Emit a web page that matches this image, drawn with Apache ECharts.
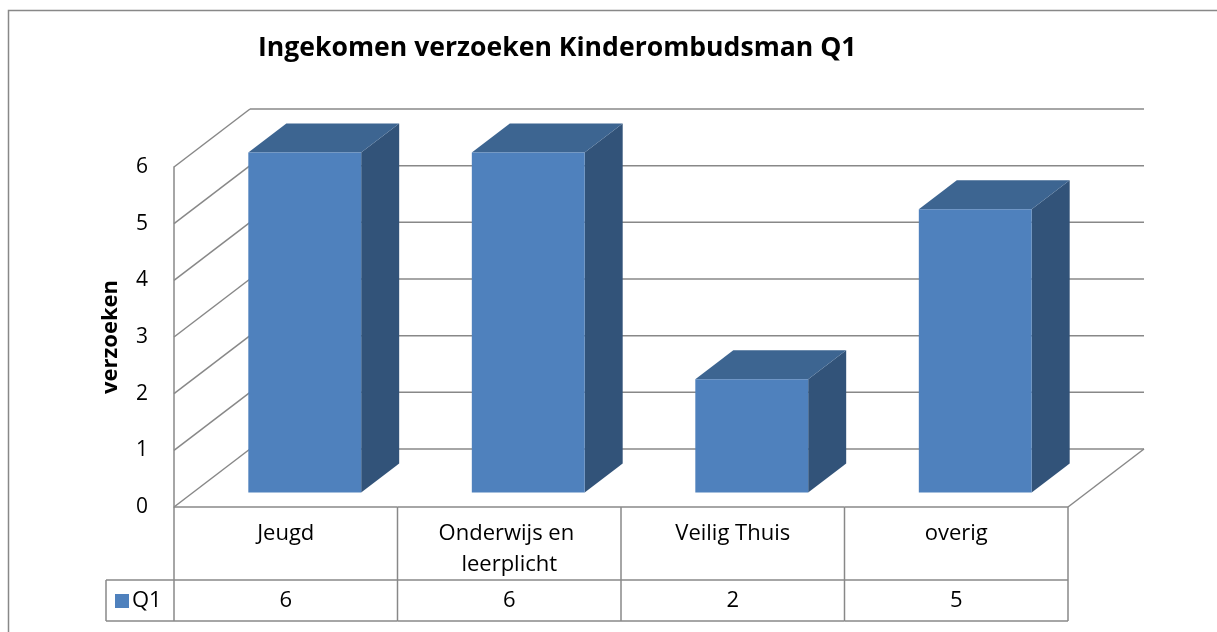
<!DOCTYPE html>
<html>
<head>
<meta charset="utf-8">
<script src="https://cdn.jsdelivr.net/npm/echarts@6/dist/echarts.min.js"></script>
<style>
html,body{margin:0;padding:0;background:#fff;}
#chart{width:1217px;height:632px;}
</style>
</head>
<body>
<div id="chart"></div>
<script>
// ---- data ----
var categories = ['Jeugd', 'Onderwijs en leerplicht', 'Veilig Thuis', 'overig'];
var seriesName = 'Q1';
var values = [6, 6, 2, 5];
var ticks = [0, 1, 2, 3, 4, 5, 6];
var titleText = 'Ingekomen verzoeken Kinderombudsman Q1';
var axisName = 'verzoeken';

// ---- style constants ----
var FONT = '"Open Sans", sans-serif';
var GRID_COLOR = '#888888';
var DX = 76, DY = -58;          // depth of the 3D box (pixels)
var F0 = 0.25, F1 = 0.75;       // bar depth position (fraction of depth)
var BAR_W = 0.505;              // bar width fraction of band
var FRONT = '#4F81BD', SIDE = '#325379', TOP = '#3D6591';
var TABLE_ROW1 = 580, TABLE_BOTTOM = 621, LEGEND_LEFT = 106;

var chart = echarts.init(document.getElementById('chart'), null, {renderer: 'canvas'});

function wallItem(params, api) {
  var cs = params.coordSys;
  var v = api.value(0);
  var y = api.coord([0, v])[1];
  var left = cs.x, right = cs.x + cs.width;
  var ls = {stroke: GRID_COLOR, lineWidth: 1.5};
  var children = [
    {type: 'line', shape: {x1: left, y1: y, x2: left + DX, y2: y + DY}, style: ls},
    {type: 'line', shape: {x1: left + DX, y1: y + DY, x2: right + DX, y2: y + DY}, style: ls}
  ];
  if (v === 0) {
    children.push({type: 'line', shape: {x1: right, y1: y, x2: right + DX, y2: y + DY}, style: ls});
  }
  return {type: 'group', children: children};
}

function barItem(params, api) {
  var i = api.value(0), v = api.value(1);
  var base = api.coord([i, 0]);
  var top = api.coord([i, v]);
  var bw = api.size([1, 0])[0];
  var w = bw * BAR_W;
  var ox = F0 * DX, oy = F0 * DY;
  var dx = (F1 - F0) * DX, dy = (F1 - F0) * DY;
  var xL = base[0] - w / 2 + ox, xR = base[0] + w / 2 + ox;
  var yT = top[1] + oy, yB = base[1] + oy;
  return {
    type: 'group',
    children: [
      {type: 'polygon', shape: {points: [[xR, yT], [xR + dx, yT + dy], [xR + dx, yB + dy], [xR, yB]]},
        style: {fill: SIDE}},
      {type: 'polygon', shape: {points: [[xL, yT], [xR, yT], [xR + dx, yT + dy], [xL + dx, yT + dy]]},
        style: {fill: TOP}},
      {type: 'rect', shape: {x: xL, y: yT, width: xR - xL, height: yB - yT},
        style: {fill: FRONT}}
    ]
  };
}

function tableItem(params, api) {
  var i = api.value(0), v = api.value(1);
  var base = api.coord([i, 0]);
  var bw = api.size([1, 0])[0];
  var x0 = base[0] - bw / 2, x1 = base[0] + bw / 2;
  var y0 = base[1];
  var ls = {stroke: GRID_COLOR, lineWidth: 1.5};
  var children = [
    {type: 'line', shape: {x1: x0, y1: y0, x2: x1, y2: y0}, style: ls},
    {type: 'line', shape: {x1: x0, y1: TABLE_ROW1, x2: x1, y2: TABLE_ROW1}, style: ls},
    {type: 'line', shape: {x1: x0, y1: TABLE_BOTTOM, x2: x1, y2: TABLE_BOTTOM}, style: ls},
    {type: 'line', shape: {x1: x1, y1: y0, x2: x1, y2: TABLE_BOTTOM}, style: ls},
    {type: 'text', style: {
      text: categories[i], x: base[0], y: y0 + 11, width: bw * 0.68, overflow: 'break',
      align: 'center', verticalAlign: 'top', font: '22px ' + FONT, lineHeight: 31, fill: '#000'
    }},
    {type: 'text', style: {
      text: String(v), x: base[0], y: (TABLE_ROW1 + TABLE_BOTTOM) / 2,
      align: 'center', verticalAlign: 'middle', font: '22px ' + FONT, fill: '#000'
    }}
  ];
  if (i === 0) {
    children.push(
      {type: 'line', shape: {x1: x0, y1: y0, x2: x0, y2: TABLE_BOTTOM}, style: ls},
      {type: 'line', shape: {x1: LEGEND_LEFT, y1: TABLE_ROW1, x2: x0, y2: TABLE_ROW1}, style: ls},
      {type: 'line', shape: {x1: LEGEND_LEFT, y1: TABLE_BOTTOM, x2: x0, y2: TABLE_BOTTOM}, style: ls},
      {type: 'line', shape: {x1: LEGEND_LEFT, y1: TABLE_ROW1, x2: LEGEND_LEFT, y2: TABLE_BOTTOM}, style: ls}
    );
  }
  return {type: 'group', children: children};
}

var option = {
  animation: false,
  backgroundColor: '#fff',
  title: {
    text: titleText, left: 253, top: 30,
    textStyle: {fontFamily: FONT, fontWeight: 'bold', fontSize: 26.6, color: '#000'}
  },
  legend: {
    data: [seriesName], left: 110, top: 585, icon: 'rect', itemWidth: 14, itemHeight: 14, itemGap: 6,
    textStyle: {fontFamily: FONT, fontSize: 22, color: '#000', padding: [0, 0, 0, -2]}
  },
  graphic: [{
    type: 'rect', shape: {x: 8.5, y: 10.5, width: 1400, height: 800},
    style: {fill: 'none', stroke: GRID_COLOR, lineWidth: 1.5}, silent: true
  }],
  grid: {left: 174, right: 149, top: 167, bottom: 125},
  xAxis: {
    type: 'category', data: categories, boundaryGap: true,
    axisLine: {show: false}, axisTick: {show: false}, axisLabel: {show: false}, splitLine: {show: false}
  },
  yAxis: {
    type: 'value', min: 0, max: 6, interval: 1,
    name: axisName, nameLocation: 'middle', nameRotate: 90, nameGap: 52,
    nameTextStyle: {fontFamily: FONT, fontWeight: 'bold', fontSize: 22, color: '#000'},
    axisLine: {show: true, lineStyle: {color: GRID_COLOR, width: 1.5}},
    axisTick: {show: false}, splitLine: {show: false},
    axisLabel: {fontFamily: FONT, fontSize: 21, color: '#000', margin: 26}
  },
  series: [
    {type: 'custom', name: '_walls', renderItem: wallItem, data: ticks.map(function (t) { return [t]; }),
      encode: {y: 0}, z: 1, silent: true},
    {type: 'custom', name: seriesName, renderItem: barItem, itemStyle: {color: FRONT},
      data: values.map(function (v, i) { return [i, v]; }), encode: {x: 0, y: 1}, z: 3},
    {type: 'custom', name: '_table', renderItem: tableItem,
      data: values.map(function (v, i) { return [i, v]; }), encode: {x: 0, y: 1}, z: 2, silent: true}
  ]
};
chart.setOption(option);
</script>
</body>
</html>
